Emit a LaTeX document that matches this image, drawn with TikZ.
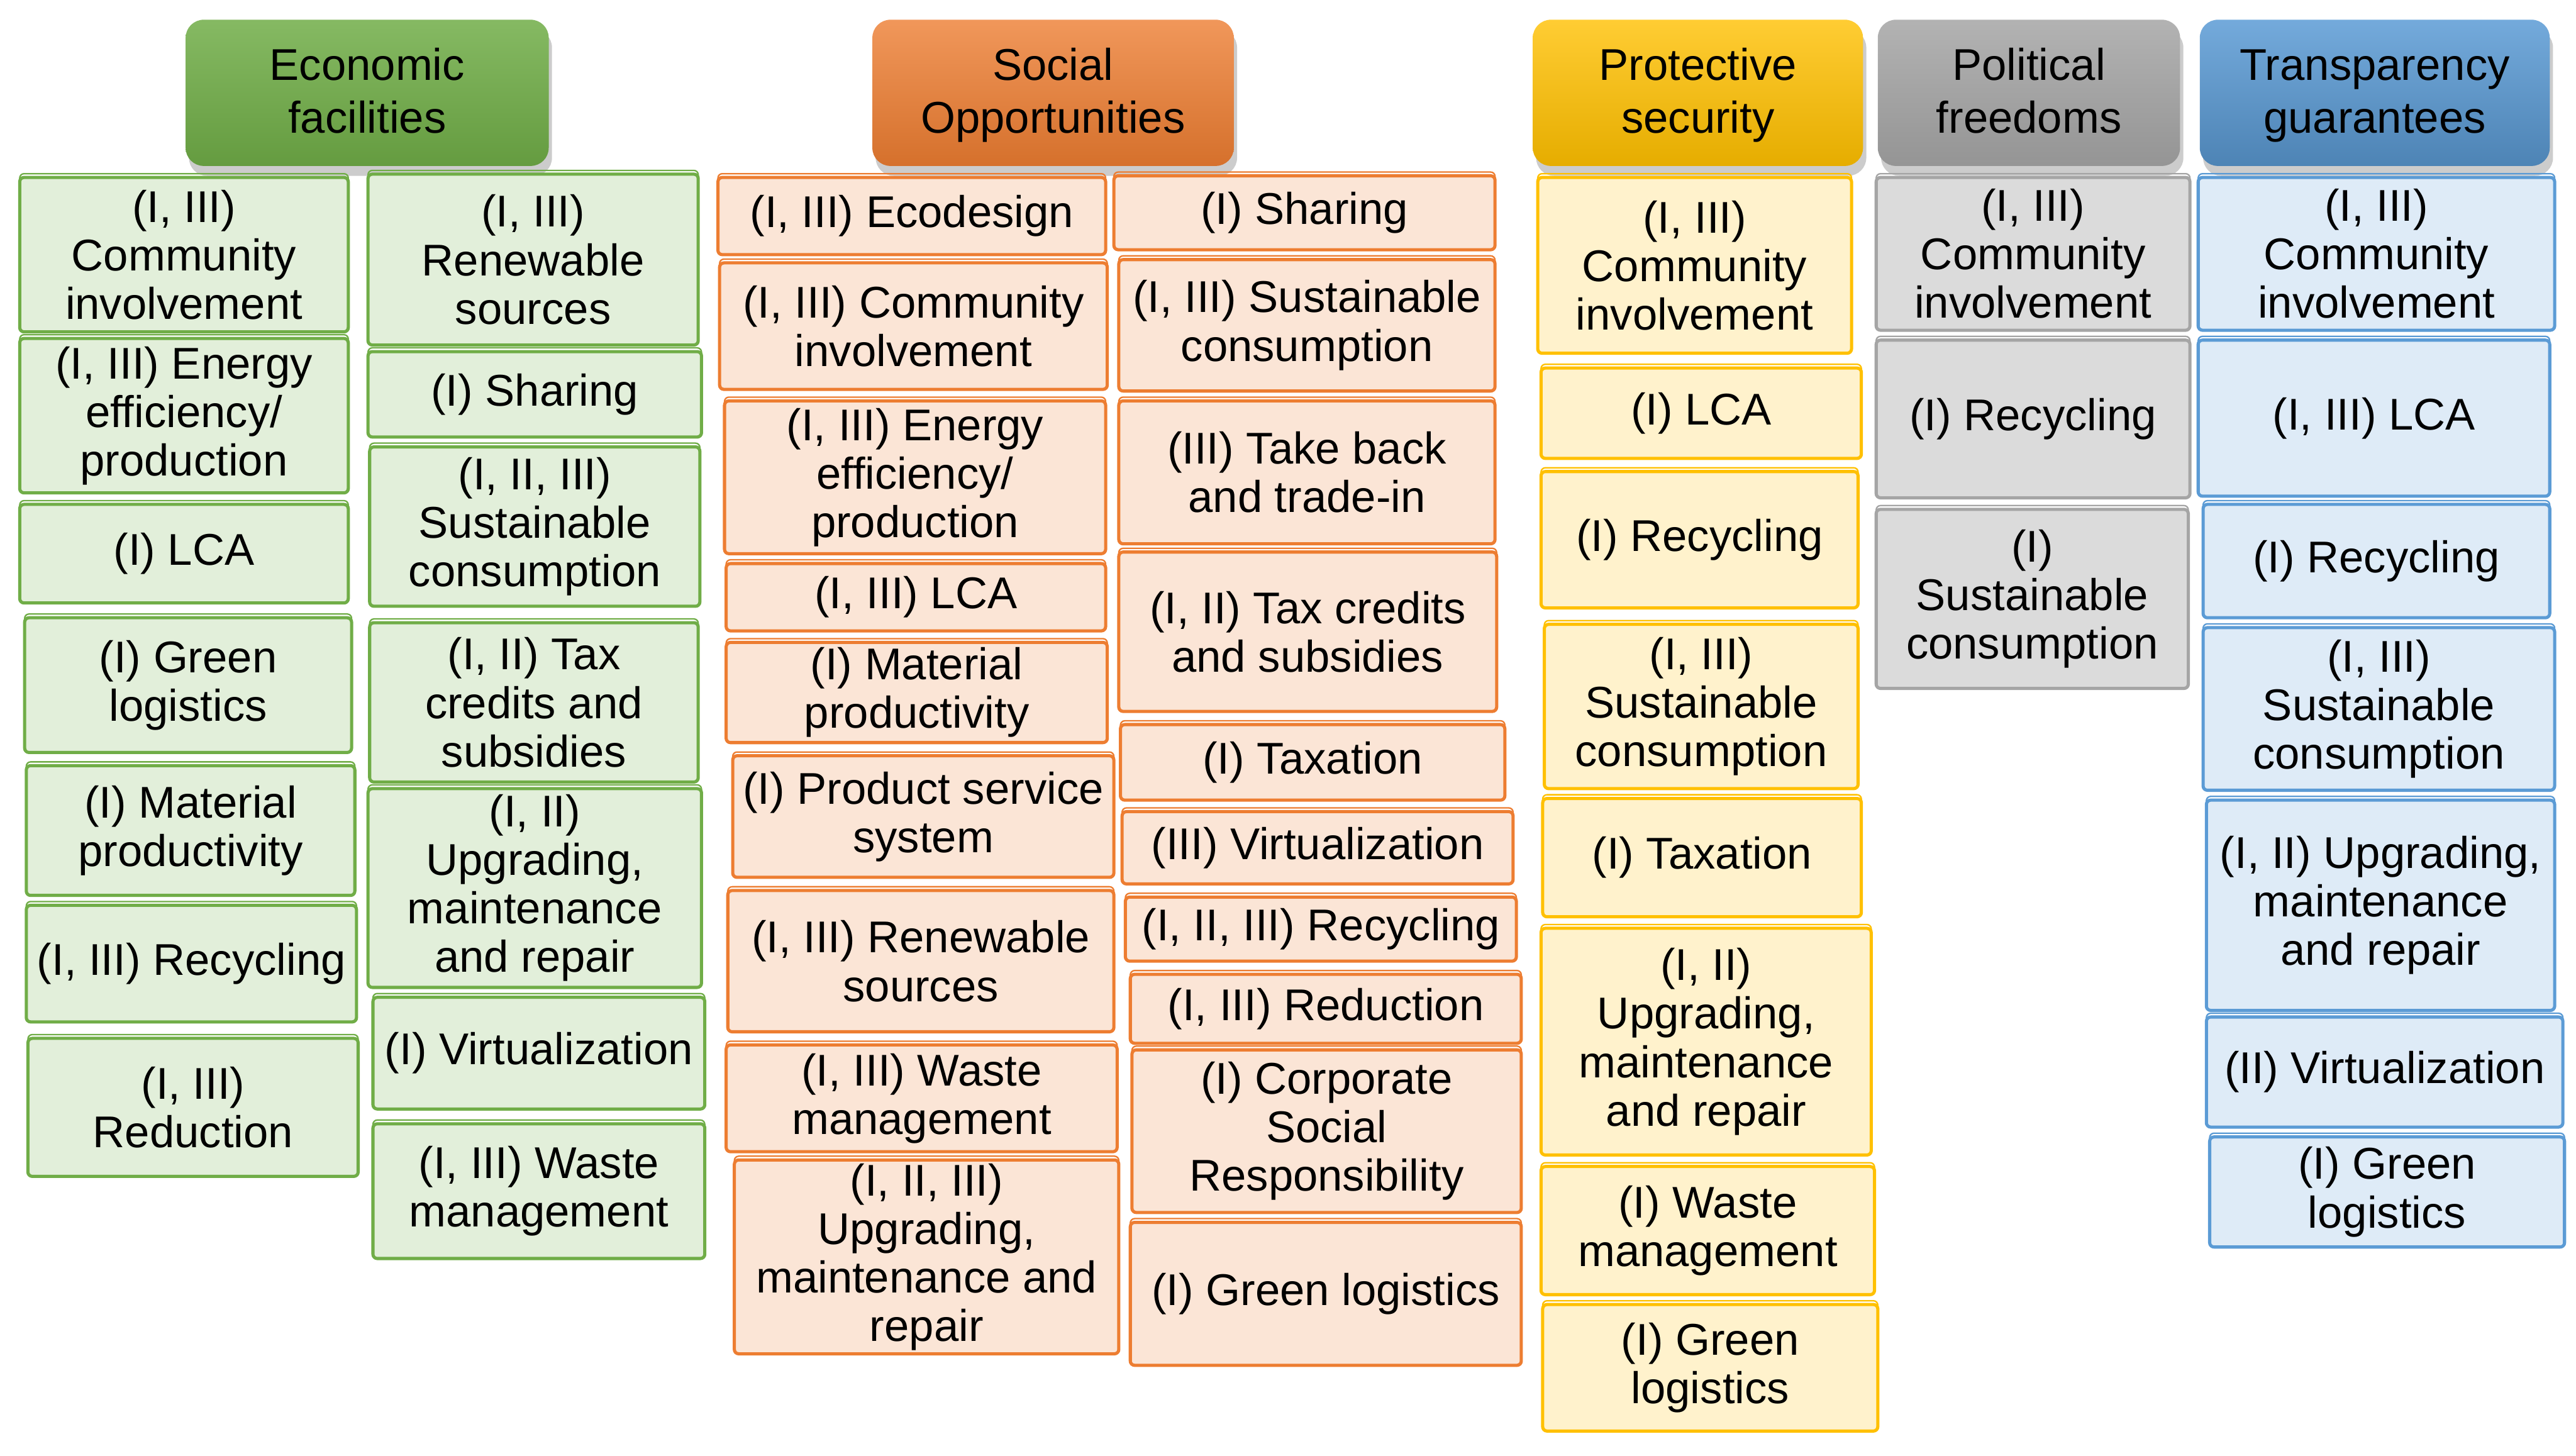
\documentclass[tikz,border=0pt]{standalone}
\usepackage{fontspec}
\setmainfont{Liberation Sans}
\usetikzlibrary{shadows}

% Màu nền và màu viền
\definecolor{ecoVien}{HTML}{70AD47}\definecolor{ecoNen}{HTML}{E2EFDA}
\definecolor{socVien}{HTML}{ED7D31}\definecolor{socNen}{HTML}{FBE5D6}
\definecolor{proVien}{HTML}{FFC000}\definecolor{proNen}{HTML}{FFF2CC}
\definecolor{polVien}{HTML}{A5A5A5}\definecolor{polNen}{HTML}{DBDBDB}
\definecolor{traVien}{HTML}{5B9BD5}\definecolor{traNen}{HTML}{DEEBF7}

% Ô chữ nhật theo hai góc (x1,y1) -- (x2,y2)
\newcommand{\hop}[7]{%
  \node[#1, minimum width={(#5-#3)*0.02cm}, minimum height={(#6-#4)*0.02cm}]
    (#2) at ({(#3+#5)/2},{(#4+#6)/2}) {#7};}
% Giữ hai dòng tiêu đề ở cùng độ cao
\newcommand{\dong}[2]{\rule{0pt}{15.1pt}#1\\#2\strut}

\begin{document}
\begin{tikzpicture}[x=0.02cm, y=-0.02cm, line join=round,
    font=\fontsize{15.4}{16.8}\selectfont,
    o/.style={draw=#1, line width=1.1pt, rounded corners=1.5pt, align=center, inner sep=0pt,
      preaction={draw=#1, line width=0.5pt, transform canvas={yshift=1.3pt}}},
    eco/.style={o=ecoVien, fill=ecoNen},
    soc/.style={o=socVien, fill=socNen},
    pro/.style={o=proVien, fill=proNen},
    pol/.style={o=polVien, fill=polNen},
    tra/.style={o=traVien, fill=traNen},
    dau/.style={rounded corners=0.22cm, align=center, inner sep=0pt,
      font=\fontsize{15.4}{18.2}\selectfont,
      drop shadow={opacity=0.4, shadow xshift=0.4mm, shadow yshift=-1.2mm}}]
  \useasboundingbox (0,0) rectangle (1568,886);

  % 1. Các ô tiêu đề
  \hop{dau, top color=ecoVien!85!white, middle color=ecoVien, bottom color=ecoVien!90!black}{hEco}{113}{12}{334}{101}{\dong{Economic}{facilities}}
  \hop{dau, top color=socVien!80!white, middle color=socVien!95!red, bottom color=socVien!90!black}{hSoc}{531}{12}{751}{101}{\dong{Social}{Opportunities}}
  \hop{dau, top color=proVien!80!white, middle color=proVien, bottom color=proVien!90!black}{hPro}{933}{12}{1134}{101}{\dong{Protective}{security}}
  \hop{dau, top color=polVien!85!white, middle color=polVien, bottom color=polVien!90!black}{hPol}{1143}{12}{1327}{101}{\dong{Political}{freedoms}}
  \hop{dau, top color=traVien!85!white, middle color=traVien!90!blue, bottom color=traVien!85!black}{hTra}{1339}{12}{1552}{101}{\dong{Transparency}{guarantees}}

  % 2. Economic facilities (hai cột)
  \hop{eco}{eco1}{12}{108}{212}{202}{(I, III)\\Community\\involvement}
  \hop{eco}{eco2}{12}{206}{212}{300}{(I, III) Energy\\efficiency/\\production}
  \hop{eco}{eco3}{12}{307}{212}{367}{(I) LCA}
  \hop{eco}{eco4}{15}{376}{214}{458}{(I) Green\\logistics}
  \hop{eco}{eco5}{16}{466}{216}{545}{(I) Material\\productivity}
  \hop{eco}{eco6}{16}{551}{217}{622}{(I, III) Recycling}
  \hop{eco}{eco7}{17}{632}{218}{716}{(I, III)\\Reduction}
  \hop{eco}{eco8}{224}{106}{425}{210}{(I, III)\\Renewable\\sources}
  \hop{eco}{eco9}{224}{214}{427}{266}{(I) Sharing}
  \hop{eco}{eco10}{225}{272}{426}{369}{(I, II, III)\\Sustainable\\consumption}
  \hop{eco}{eco11}{225}{379}{425}{476}{(I, II) Tax\\credits and\\subsidies}
  \hop{eco}{eco12}{224}{480}{427}{601}{(I, II)\\Upgrading,\\maintenance\\and repair}
  \hop{eco}{eco13}{227}{607}{429}{675}{(I) Virtualization}
  \hop{eco}{eco14}{227}{684}{429}{766}{(I, III) Waste\\management}

  % 3. Social Opportunities (hai cột)
  \hop{soc}{soc1}{437}{108}{673}{155}{(I, III) Ecodesign}
  \hop{soc}{soc2}{438}{160}{674}{237}{(I, III) Community\\involvement}
  \hop{soc}{soc3}{441}{244}{673}{337}{(I, III) Energy\\efficiency/\\production}
  \hop{soc}{soc4}{442}{343}{673}{384}{(I, III) LCA}
  \hop{soc}{soc5}{442}{391}{674}{452}{(I) Material\\productivity}
  \hop{soc}{soc6}{446}{460}{678}{534}{(I) Product service\\system}
  \hop{soc}{soc7}{443}{542}{678}{628}{(I, III) Renewable\\sources}
  \hop{soc}{soc8}{442}{636}{680}{701}{(I, III) Waste\\management}
  \hop{soc}{soc9}{447}{706}{681}{824}{(I, II, III)\\Upgrading,\\maintenance and\\repair}
  \hop{soc}{soc10}{678}{107}{910}{152}{(I) Sharing}
  \hop{soc}{soc11}{681}{158}{910}{238}{(I, III) Sustainable\\consumption}
  \hop{soc}{soc12}{681}{244}{910}{331}{(III) Take back\\and trade-in}
  \hop{soc}{soc13}{681}{336}{911}{433}{(I, II) Tax credits\\and subsidies}
  \hop{soc}{soc14}{682}{441}{916}{487}{(I) Taxation}
  \hop{soc}{soc15}{683}{494}{921}{538}{(III) Virtualization}
  \hop{soc}{soc16}{685}{546}{923}{585}{(I, II, III) Recycling}
  \hop{soc}{soc17}{688}{593}{926}{635}{(I, III) Reduction}
  \hop{soc}{soc18}{689}{639}{926}{738}{(I) Corporate\\Social\\Responsibility}
  \hop{soc}{soc19}{688}{744}{926}{831}{(I) Green logistics}

  % 4. Protective security
  \hop{pro}{pro1}{936}{108}{1127}{215}{(I, III)\\Community\\involvement}
  \hop{pro}{pro2}{938}{224}{1133}{279}{(I) LCA}
  \hop{pro}{pro3}{938}{287}{1131}{370}{(I) Recycling}
  \hop{pro}{pro4}{940}{380}{1131}{480}{(I, III)\\Sustainable\\consumption}
  \hop{pro}{pro5}{939}{486}{1133}{558}{(I) Taxation}
  \hop{pro}{pro6}{938}{565}{1139}{703}{(I, II)\\Upgrading,\\maintenance\\and repair}
  \hop{pro}{pro7}{938}{710}{1141}{788}{(I) Waste\\management}
  \hop{pro}{pro8}{939}{794}{1143}{871}{(I) Green\\logistics}

  % 5. Political freedoms
  \hop{pol}{pol1}{1142}{108}{1333}{201}{(I, III)\\Community\\involvement}
  \hop{pol}{pol2}{1142}{207}{1333}{303}{(I) Recycling}
  \hop{pol}{pol3}{1142}{310}{1332}{419}{(I)\\Sustainable\\consumption}

  % 6. Transparency guarantees
  \hop{tra}{tra1}{1338}{108}{1555}{201}{(I, III)\\Community\\involvement}
  \hop{tra}{tra2}{1338}{207}{1552}{302}{(I, III) LCA}
  \hop{tra}{tra3}{1341}{307}{1552}{376}{(I) Recycling}
  \hop{tra}{tra4}{1341}{382}{1555}{481}{(I, III)\\Sustainable\\consumption}
  \hop{tra}{tra5}{1343}{487}{1555}{615}{(I, II) Upgrading,\\maintenance\\and repair}
  \hop{tra}{tra6}{1343}{619}{1560}{686}{(II) Virtualization}
  \hop{tra}{tra7}{1345}{692}{1561}{759}{(I) Green\\logistics}
\end{tikzpicture}
\end{document}
